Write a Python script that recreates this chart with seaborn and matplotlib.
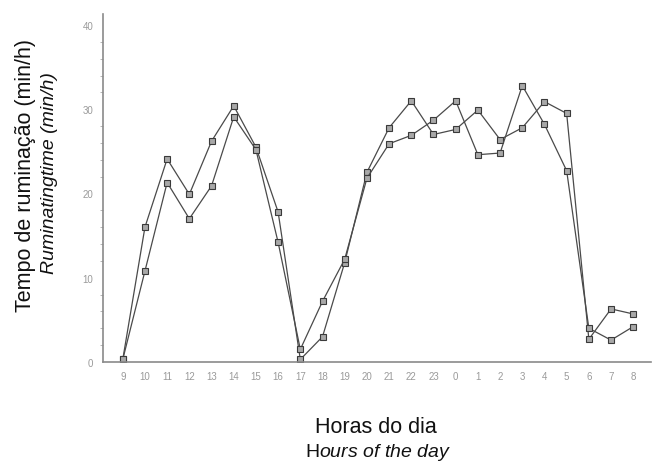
import matplotlib
matplotlib.use("Agg")
import matplotlib.pyplot as plt
import numpy as np
import pandas as pd
import seaborn as sns

# ---- data ----
hours = ["9", "10", "11", "12", "13", "14", "15", "16", "17", "18", "19", "20",
         "21", "22", "23", "0", "1", "2", "3", "4", "5", "6", "7", "8"]
serie_a = [0.3, 16.0, 24.1, 19.9, 26.2, 30.4, 25.5, 17.8, 0.3, 3.0, 11.8, 22.5,
           27.8, 31.0, 27.0, 27.6, 29.9, 26.4, 27.8, 30.9, 29.5, 2.7, 6.3, 5.7]
serie_b = [0.3, 10.8, 21.3, 17.0, 20.9, 29.1, 25.2, 14.2, 1.5, 7.2, 12.2, 21.8,
           25.9, 26.9, 28.7, 31.0, 24.6, 24.8, 32.8, 28.2, 22.7, 4.0, 2.6, 4.2]
y_ticks = [0, 10, 20, 30, 40]

sns.set_theme(style="white")
plt.rcParams["font.family"] = ["Liberation Sans", "DejaVu Sans"]
plt.rcParams["mathtext.fontset"] = "custom"
plt.rcParams["mathtext.rm"] = "Liberation Sans"
plt.rcParams["mathtext.it"] = "Liberation Sans:italic"

W, H = 652, 464
fig = plt.figure(figsize=(W / 100, H / 100), dpi=100)
ax = fig.add_axes([103 / W, 1 - 363 / H, (651 - 103) / W, (363 - 15) / H])

pos = list(range(len(hours)))
df = pd.DataFrame({
    "pos": pos * 2,
    "val": serie_a + serie_b,
    "serie": ["A"] * len(hours) + ["B"] * len(hours),
})
sns.lineplot(data=df, x="pos", y="val", hue="serie", style="serie",
             markers=["s", "s"], dashes=False, palette=["#4a4a4a", "#4a4a4a"],
             markersize=5, markerfacecolor="#a8a8a8", markeredgecolor="#3a3a3a",
             markeredgewidth=0.8, linewidth=0.9, legend=False, ax=ax)

ax.set_xlim(-0.89, 23.8)
ax.set_ylim(0, 41.3)
ax.set_xticks(pos)
ax.set_xticklabels(hours)
ax.set_yticks(y_ticks)
ax.set_yticks(np.arange(0, 41, 2), minor=True)
ax.set_xlabel("")
ax.set_ylabel("")

for s in ["top", "right"]:
    ax.spines[s].set_visible(False)
for s in ["left", "bottom"]:
    ax.spines[s].set_color("#8a8a8a")
    ax.spines[s].set_linewidth(1.2)

ax.tick_params(axis="both", which="major", labelsize=7, labelcolor="#9a9a9a",
               color="#8a8a8a", length=3, width=0.8)
ax.tick_params(axis="x", which="major", direction="inout", pad=5)
ax.tick_params(axis="y", which="major", direction="out", pad=4)
ax.tick_params(axis="y", which="minor", left=True, length=2, width=0.6,
               color="#aaaaaa", direction="out")

fig.text(26 / W, 1 - 175 / H, "Tempo de ruminação (min/h)", rotation=90,
         fontsize=15.5, ha="center", va="center", color="#111111")
fig.text(50 / W, 1 - 173 / H, "Ruminatingtime (min/h)", rotation=90,
         fontsize=14, style="italic", ha="center", va="center", color="#111111")
fig.text(376 / W, 1 - 433 / H, "Horas do dia", fontsize=15.5,
         ha="center", va="baseline", color="#111111")
fig.text(378 / W, 1 - 457 / H, r"H$\mathit{ours\ of\ the\ day}$", fontsize=14,
         ha="center", va="baseline", color="#111111")

fig.savefig("out.png", dpi=100, facecolor="white")
